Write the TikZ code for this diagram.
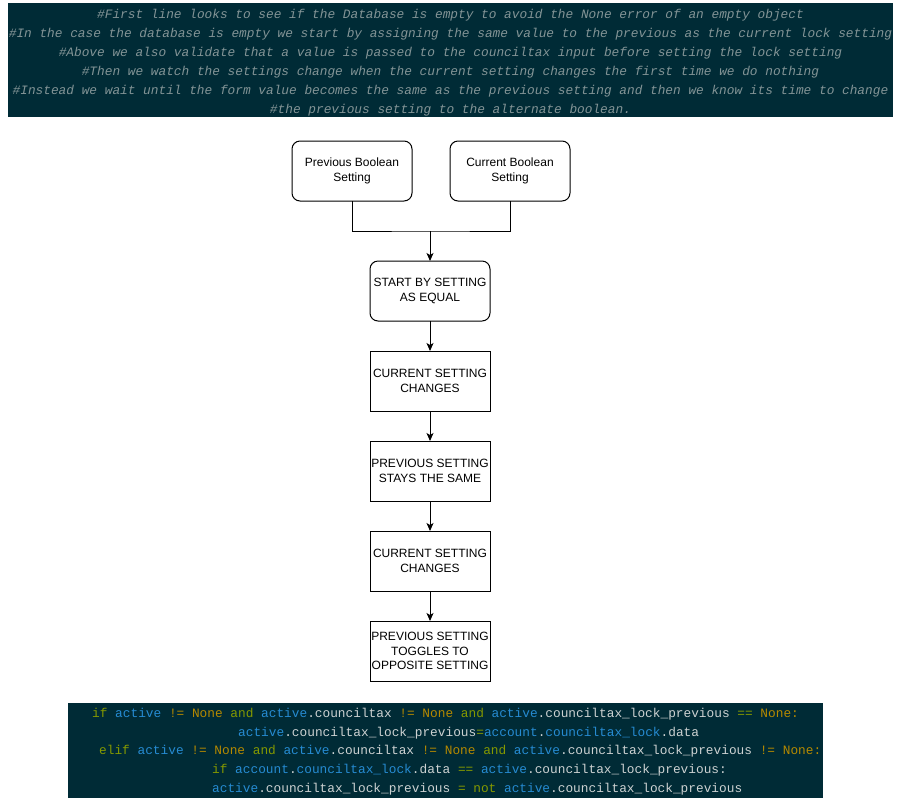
\documentclass[tikz,border=0pt]{standalone}
\usepackage{fontspec}
\setmainfont{Liberation Sans}
\newfontfamily\codefont{Liberation Mono}
\usetikzlibrary{arrows.meta}
\usetikzlibrary{positioning}
\definecolor{panelbg}{RGB}{0,43,54}
\definecolor{commentgray}{RGB}{131,148,150}
\definecolor{kwgreen}{RGB}{133,153,0}
\definecolor{nonegold}{RGB}{181,137,0}
\definecolor{varblue}{RGB}{38,139,210}
\definecolor{plaintext}{RGB}{205,210,210}
\newcommand\ckw[1]{\textcolor{kwgreen}{#1}}
\newcommand\cnone[1]{\textcolor{nonegold}{#1}}
\newcommand\cvar[1]{\textcolor{varblue}{#1}}
\frenchspacing

\begin{document}
\begin{tikzpicture}[x=1pt,y=-1pt,
        every node/.append style={font=\fontsize{12}{14.5}\selectfont,inner sep=0pt},
        box/.style={draw=black,line width=1pt,outer sep=0pt,minimum width=120pt,minimum height=60pt,align=center},
        roundbox/.style={box,rounded corners=8pt},
        panel/.style={fill=panelbg,text=commentgray},
        codeline/.style={anchor=base west,text=plaintext,font=\codefont\fontsize{12.8}{19}\selectfont},
        arrow/.style={-{Stealth[length=8pt,width=7pt,inset=2pt]},line width=1pt}
    ]
        \useasboundingbox (0,0) rectangle (901,801);

        % comments above the code
        \node[panel,minimum width=885pt,minimum height=114pt,align=center,
            font=\codefont\itshape\fontsize{12.8}{19}\selectfont] (notes) at (450.5,60)
            {\rule{0pt}{15pt}\#First line looks to see if the Database is empty to avoid the None error of an empty object\\
             \#In the case the database is empty we start by assigning the same value to the previous as the current lock setting\\
             \#Above we also validate that a value is passed to the counciltax input before setting the lock setting\\
             \#Then we watch the settings change when the current setting changes the first time we do nothing\\
             \#Instead we wait until the form value becomes the same as the previous setting and then we know its time to change\\
             \#the previous setting to the alternate boolean.};

        \node[roundbox] (1) at (352,171) {Previous Boolean\\Setting};
        \node[roundbox] (2) at (510,171) {Current Boolean\\Setting};
        \node[roundbox] (3) at (430,291) {START BY SETTING\\AS EQUAL};
        \node[box] (4) [below=30pt of 3] {CURRENT SETTING\\CHANGES};
        \node[box] (5) [below=30pt of 4] {PREVIOUS SETTING\\STAYS THE SAME};
        \node[box] (6) [below=30pt of 5] {CURRENT SETTING\\CHANGES};
        \node[box] (7) [below=30pt of 6] {PREVIOUS SETTING\\TOGGLES TO\\OPPOSITE SETTING};

        \coordinate (join) at (430,231);
        \draw[line width=1pt] (1.south) |- (join) -| (2.south);
        \draw[arrow] (join) -- (3);
        \foreach \a/\b in {3/4,4/5,5/6,6/7}
            \draw[arrow] (\a) -- (\b);

        % the code itself
        \node[panel,minimum width=755pt,minimum height=95pt] (code) at (445.5,750.5) {};
        \node[codeline] (c1) at (92,717.5) {\ckw{if} \cvar{active} \cnone{!=} \cnone{None} \ckw{and} \cvar{active}.counciltax \cnone{!=} \cnone{None} \ckw{and} \cvar{active}.counciltax\_lock\_previous \ckw{==} \cnone{None:}};
        \node[codeline] (c2) at (238,736) {\cvar{active}.counciltax\_lock\_previous\ckw{=}\cvar{account}.\cvar{counciltax\_lock}.data};
        \node[codeline] (c3) at (99,754.5) {\ckw{elif} \cvar{active} \cnone{!=} \cnone{None} \ckw{and} \cvar{active}.counciltax \cnone{!=} \cnone{None} \ckw{and} \cvar{active}.counciltax\_lock\_previous \cnone{!=} \cnone{None:}};
        \node[codeline] (c4) at (212,773.5) {\ckw{if} \cvar{account}.\cvar{counciltax\_lock}.data \ckw{==} \cvar{active}.counciltax\_lock\_previous:};
        \node[codeline] (c5) at (212,792.5) {\cvar{active}.counciltax\_lock\_previous \ckw{=} \ckw{not} \cvar{active}.counciltax\_lock\_previous};
    \end{tikzpicture}
\end{document}
